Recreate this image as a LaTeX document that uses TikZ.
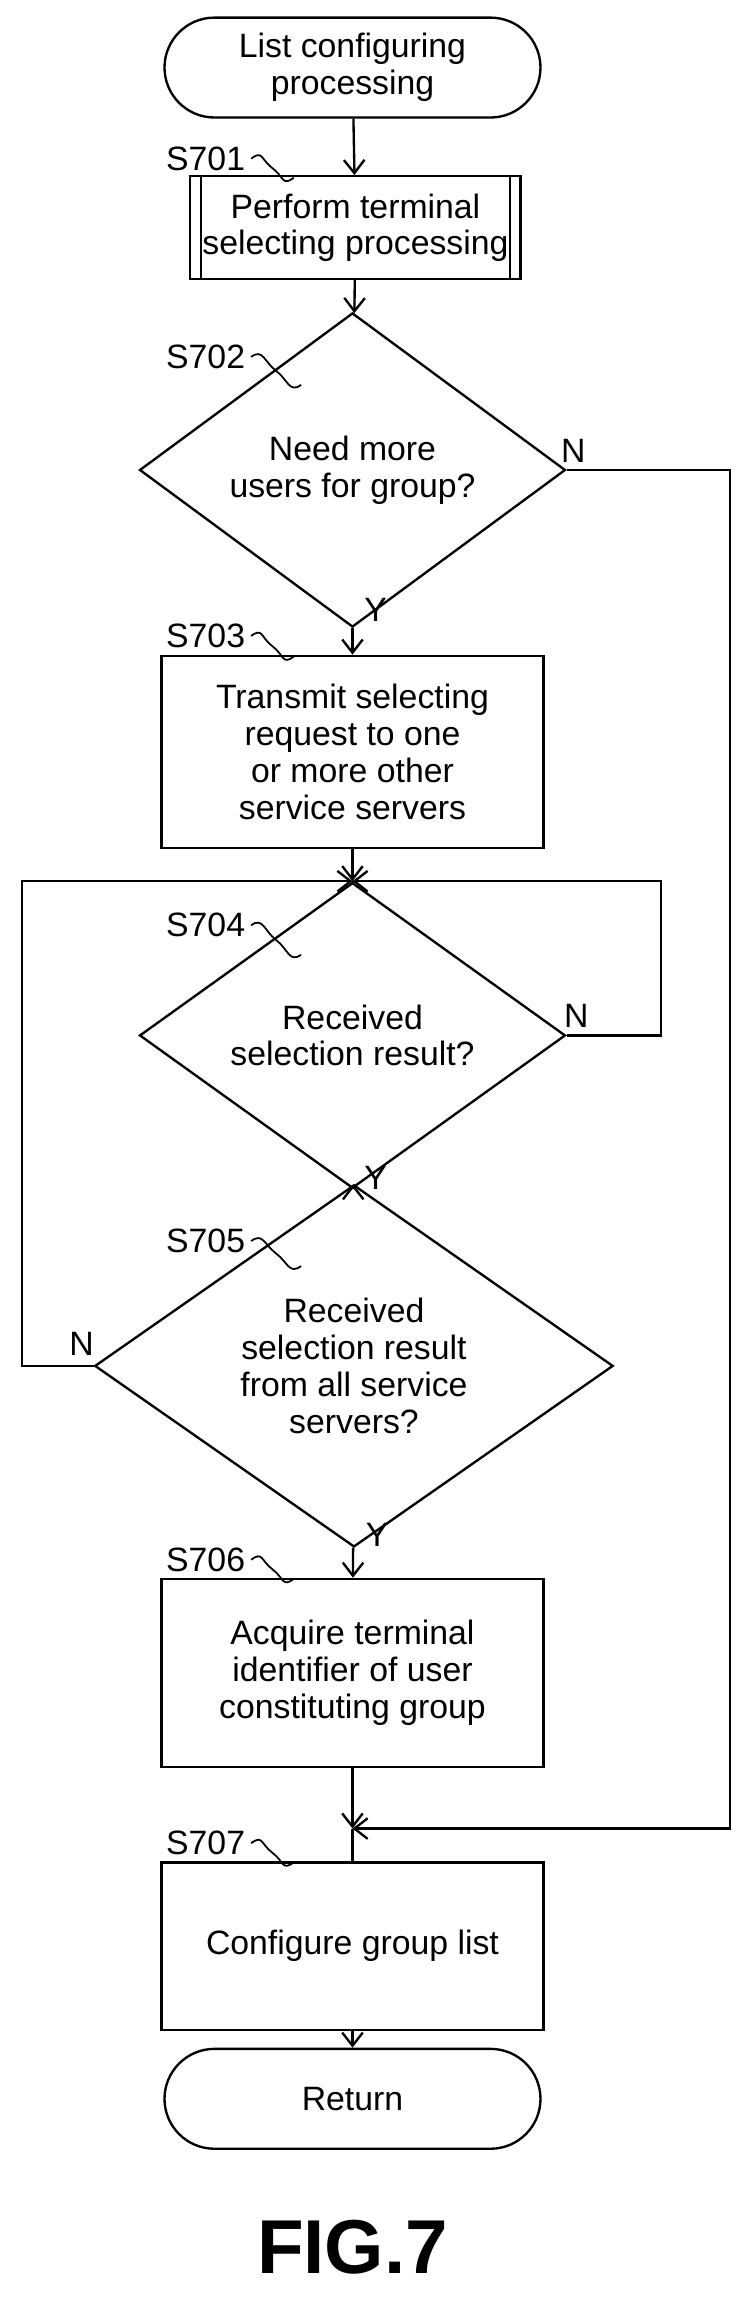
\documentclass[tikz,border=0pt]{standalone}
\usepackage{fontspec}
\setmainfont{Liberation Sans}
\usetikzlibrary{arrows.meta,positioning,calc,shapes.geometric,shapes.misc}
\tikzset{
  >={Straight Barb[length=9pt,width=14pt,line width=1.6pt]},
  every picture/.append style={line width=1.6pt},
}
\begin{document}
\begin{tikzpicture}[x=1pt,y=-1pt,
  every node/.style={font=\fontsize{23}{25}\selectfont},
  term/.style={draw, rounded rectangle, minimum width=260pt, minimum height=68pt, align=center, inner sep=2pt},
  proc/.style={draw, rectangle, minimum width=260pt, align=center, inner sep=2pt},
  dec/.style={draw, diamond, inner sep=0pt, align=center},
  steplbl/.style={font=\fontsize{23}{25}\selectfont},
  yn/.style={font=\fontsize{23}{25}\selectfont},
  arr/.style={->},
  tilde/.style={line width=1.2pt}
]
\useasboundingbox (0,0) rectangle (512,1566);

% Terminals and process boxes
\node[term] (start) at (240,46) {List configuring\\processing};
\node[proc, minimum width=225pt, minimum height=70pt] (s701) at (242,155) {Perform terminal\\selecting processing};
\draw ($(s701.north west)+(8,0)$) -- ($(s701.south west)+(8,0)$);
\draw ($(s701.north east)+(-8,0)$) -- ($(s701.south east)+(-8,0)$);
\node[dec, minimum width=290pt, minimum height=155pt] (s702) at (240,320) {Need more\\users for group?};
\node[proc, minimum height=131pt] (s703) at (240,512) {Transmit selecting\\request to one\\or more other\\service servers};
\coordinate (j1) at (240,600);
\node[dec, minimum width=290pt, minimum height=155pt] (s704) at (240,705) {Received\\selection result?};
\node[dec, minimum width=353pt, minimum height=190pt] (s705) at (241,930) {Received\\selection result\\from all service\\servers?};
\node[proc, minimum height=128pt] (s706) at (240,1139) {Acquire terminal\\identifier of user\\constituting group};
\coordinate (j2) at (240,1245);
\node[proc, minimum height=114pt] (s707) at (240,1325) {Configure group list};
\node[term] (ret) at (240,1429) {Return};
\node[font=\fontsize{52}{56}\selectfont\bfseries] (fig) at (240,1530) {FIG.7};

% Step labels
\foreach \n/\y/\tx/\ty in {S701/108/200/121, S702/243/205/262, S703/433/200/447, S704/630/205/650, S705/845/205/862, S706/1062/200/1075, S707/1255/200/1268}{
  \node[steplbl] (l\n) at (140,\y) {\n};
  \draw[tilde] (l\n.east) .. controls +(8,-6) and +(-8,-6) .. ($(l\n.east)!0.5!(\tx,\ty)$) .. controls +(8,6) and +(-8,6) .. (\tx,\ty);
}

% Main flow
\draw[arr] (start) -- (s701);
\draw[arr] (s701) -- (s702);
\draw[arr] (s702) -- (s703);
\draw[arr] (s703) -- (j1);
\draw (j1) -- (s704);
\draw[arr] (s704) -- (s705);
\draw[arr] (s705) -- (s706);
\draw[arr] (s706) -- (j2);
\draw (j2) -- (s707);
\draw[arr] (s707) -- (ret);

% Branches
\draw[arr] (s702.east) -- (497,320) -- (497,1245) -- (j2);
\draw[arr] (s704.east) -- (450,705) -- (450,600) -- (j1);
\draw[arr] (s705.west) -- (15,930) -- (15,600) -- (j1);

% Y / N labels
\node[yn, anchor=west] (y702) at (244,415) {Y};
\node[yn, anchor=west] (y704) at (244,802) {Y};
\node[yn, anchor=west] (y705) at (245,1045) {Y};
\node[yn, anchor=west] (n702) at (378,307) {N};
\node[yn, anchor=west] (n704) at (380,692) {N};
\node[yn, anchor=east] (n705) at (68,915) {N};
\end{tikzpicture}
\end{document}
